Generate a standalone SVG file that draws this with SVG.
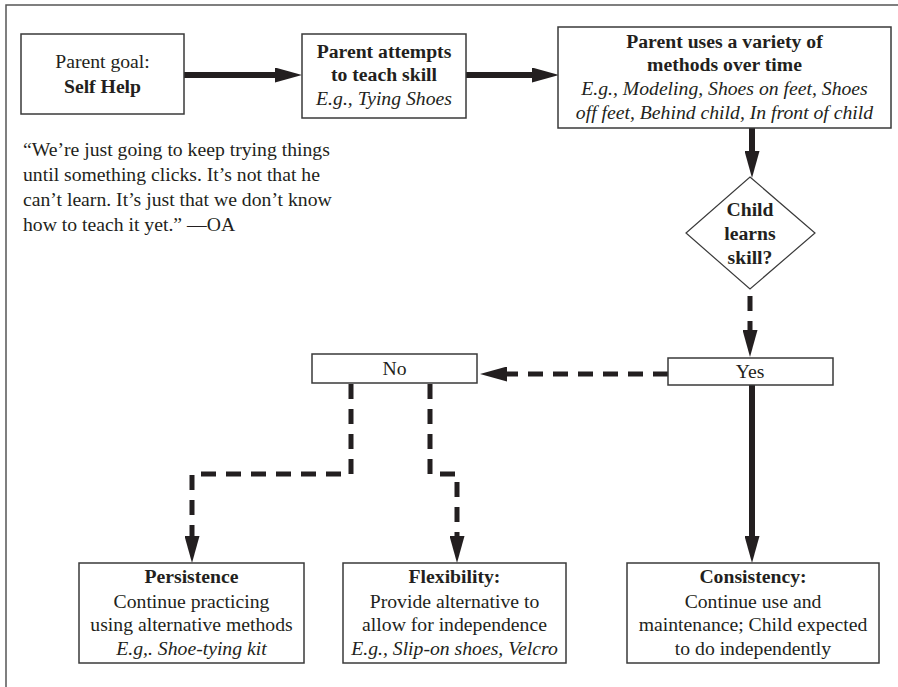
<svg xmlns="http://www.w3.org/2000/svg" width="898" height="687" viewBox="0 0 898 687">
<style>
  text { font-family: "Liberation Serif", "Times New Roman", serif; font-size: 19.7px; fill: #231f20; text-anchor: middle; }
  .b { font-weight: bold; }
  .i { font-style: italic; }
  .q { text-anchor: start; }
  .box { fill: #ffffff; stroke: #3a3a3a; stroke-width: 1.5; }
  .solid { fill: none; stroke: #231f20; stroke-width: 6; }
  .dash { fill: none; stroke: #231f20; stroke-width: 5; stroke-dasharray: 15 10; }
  .frame { fill: none; stroke: #555; stroke-width: 1.5; }
</style>
<defs>
  <marker id="ah" markerUnits="userSpaceOnUse" markerWidth="27" markerHeight="15" viewBox="0 0 27 15" refX="0" refY="7.5" orient="auto">
    <path d="M0,0 L27,7.5 L0,15 Z" fill="#231f20"/>
  </marker>
</defs>
<rect width="898" height="687" fill="#ffffff"/>
<path class="frame" d="M6,687 V5 H898"/>

<g id="connectors">
  <path class="solid" d="M184,75 H275" marker-end="url(#ah)"/>
  <path class="solid" d="M466,75 H532" marker-end="url(#ah)"/>
  <path class="solid" d="M752,128 V151" marker-end="url(#ah)"/>
  <path class="dash" d="M750,296 V330" marker-end="url(#ah)"/>
  <path class="dash" d="M668,374 H507" marker-end="url(#ah)"/>
  <path class="dash" d="M351,384 V474 H192 V536" marker-end="url(#ah)"/>
  <path class="dash" d="M430,384 V474 H457 V536" marker-end="url(#ah)"/>
  <path class="solid" d="M752,385 V536" marker-end="url(#ah)"/>
</g>

<g id="goal">
  <rect class="box" x="21" y="34" width="163" height="80"/>
  <text x="102.5" y="68">Parent goal:</text>
  <text class="b" x="102.5" y="93">Self Help</text>
</g>

<g id="attempt">
  <rect class="box" x="302" y="34" width="164" height="84"/>
  <text class="b" x="384" y="58">Parent attempts</text>
  <text class="b" x="384" y="81">to teach skill</text>
  <text class="i" x="384" y="105">E.g., Tying Shoes</text>
</g>

<g id="methods">
  <rect class="box" x="558" y="27" width="333" height="101"/>
  <text class="b" x="724.5" y="48">Parent uses a variety of</text>
  <text class="b" x="724.5" y="71">methods over time</text>
  <text class="i" x="724.5" y="95">E.g., Modeling, Shoes on feet, Shoes</text>
  <text class="i" x="724.5" y="119">off feet, Behind child, In front of child</text>
</g>

<g id="quote">
  <text class="q" x="23" y="156">“We’re just going to keep trying things</text>
  <text class="q" x="23" y="181">until something clicks. It’s not that he</text>
  <text class="q" x="23" y="206">can’t learn. It’s just that we don’t know</text>
  <text class="q" x="23" y="231">how to teach it yet.” —OA</text>
</g>

<g id="decision">
  <polygon points="750,177 815,233 750,289 686,233" fill="#ffffff" stroke="#3a3a3a" stroke-width="1.2"/>
  <text class="b" x="750" y="216">Child</text>
  <text class="b" x="750" y="240">learns</text>
  <text class="b" x="750" y="264">skill?</text>
</g>

<g id="yes">
  <rect class="box" x="668" y="358" width="165" height="27"/>
  <text x="750" y="378">Yes</text>
</g>

<g id="no">
  <rect class="box" x="312" y="354" width="165" height="29"/>
  <text x="394.5" y="375">No</text>
</g>

<g id="persistence">
  <rect class="box" x="79" y="563" width="225" height="100"/>
  <text class="b" x="191.5" y="583">Persistence</text>
  <text x="191.5" y="608">Continue practicing</text>
  <text x="191.5" y="631">using alternative methods</text>
  <text class="i" x="191.5" y="655">E.g,. Shoe-tying kit</text>
</g>

<g id="flexibility">
  <rect class="box" x="343" y="563" width="223" height="100"/>
  <text class="b" x="454.5" y="583">Flexibility:</text>
  <text x="454.5" y="608">Provide alternative to</text>
  <text x="454.5" y="631">allow for independence</text>
  <text class="i" x="454.5" y="655">E.g., Slip-on shoes, Velcro</text>
</g>

<g id="consistency">
  <rect class="box" x="627" y="563" width="252" height="100"/>
  <text class="b" x="753" y="583">Consistency:</text>
  <text x="753" y="608">Continue use and</text>
  <text x="753" y="631">maintenance; Child expected</text>
  <text x="753" y="655">to do independently</text>
</g>
</svg>
